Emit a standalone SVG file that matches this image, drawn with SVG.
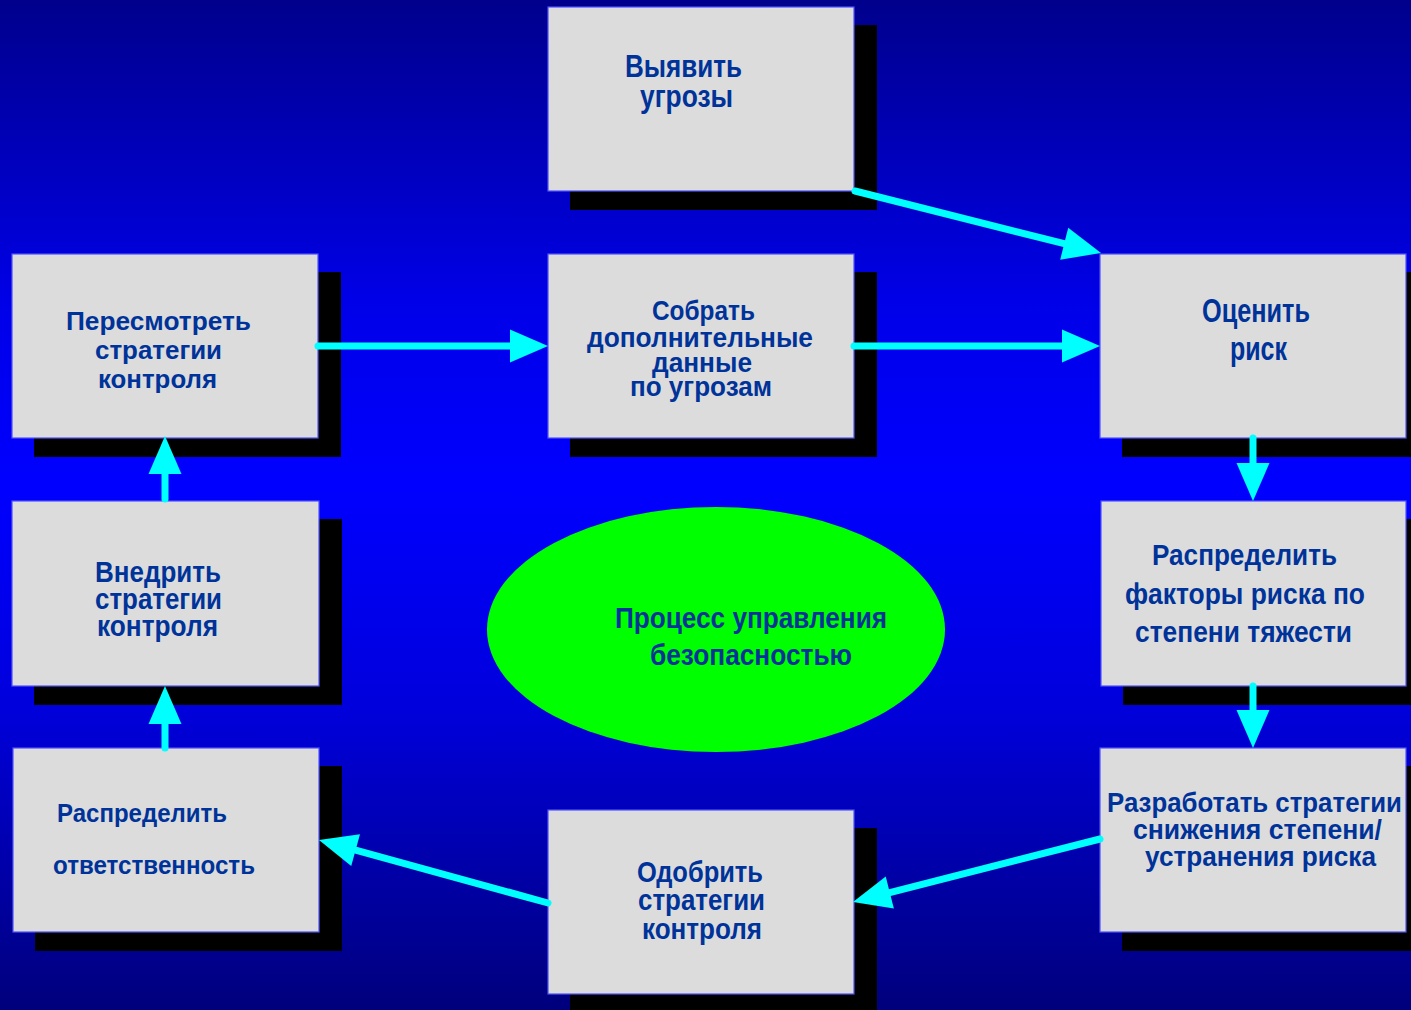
<svg xmlns="http://www.w3.org/2000/svg" width="1411" height="1010" viewBox="0 0 1411 1010">
  <defs>
    <linearGradient id="bg" x1="0" y1="0" x2="0" y2="1">
      <stop offset="0" stop-color="#00008C"/>
      <stop offset="0.3" stop-color="#0000E8"/>
      <stop offset="0.48" stop-color="#0000FF"/>
      <stop offset="0.7" stop-color="#0000DC"/>
      <stop offset="1" stop-color="#00007C"/>
    </linearGradient>
    <marker id="head" markerUnits="userSpaceOnUse" markerWidth="40" markerHeight="34" refX="0" refY="16.5" orient="auto" overflow="visible">
      <path d="M0,0 L38,16.5 L0,33 Z" fill="#00FFFF"/>
    </marker>
  </defs>
  <style>
    .shadow { fill: #000000; }
    .box { fill: #DCDCDC; stroke: #5050FF; stroke-width: 1.2; }
    .lbl { font-family: "Liberation Sans", Arial, sans-serif; font-weight: bold; fill: #003399; }
    .link { fill: none; stroke: #00FFFF; stroke-width: 7; stroke-linecap: round; marker-end: url(#head); }
  </style>

  <rect x="0" y="0" width="1411" height="1010" fill="url(#bg)"/>

  <!-- Central ellipse -->
  <g id="process">
    <ellipse cx="716" cy="629.5" rx="229" ry="122.5" fill="#00FF00"/>
    <text class="lbl" font-size="30">
      <tspan x="615" y="628" textLength="272" lengthAdjust="spacingAndGlyphs">Процесс управления</tspan>
      <tspan x="650" y="665" textLength="202" lengthAdjust="spacingAndGlyphs">безопасностью</tspan>
    </text>
  </g>

  <g id="identify-threats">
    <rect class="shadow" x="570" y="25" width="307" height="185"/>
    <rect class="box" x="548" y="7" width="306" height="184"/>
    <text class="lbl" font-size="32">
      <tspan x="625" y="77" textLength="117" lengthAdjust="spacingAndGlyphs">Выявить</tspan>
      <tspan x="640" y="107" textLength="93" lengthAdjust="spacingAndGlyphs">угрозы</tspan>
    </text>
  </g>

  <g id="review-strategies">
    <rect class="shadow" x="34" y="272" width="307" height="185"/>
    <rect class="box" x="12" y="254" width="306" height="184"/>
    <text class="lbl" font-size="26">
      <tspan x="66" y="330" textLength="185" lengthAdjust="spacingAndGlyphs">Пересмотреть</tspan>
      <tspan x="95" y="359" textLength="127" lengthAdjust="spacingAndGlyphs">стратегии</tspan>
      <tspan x="98" y="388" textLength="119" lengthAdjust="spacingAndGlyphs">контроля</tspan>
    </text>
  </g>

  <g id="collect-data">
    <rect class="shadow" x="570" y="272" width="307" height="185"/>
    <rect class="box" x="548" y="254" width="306" height="184"/>
    <text class="lbl" font-size="27">
      <tspan x="652" y="320" textLength="103" lengthAdjust="spacingAndGlyphs">Собрать</tspan>
      <tspan x="587" y="347" textLength="226" lengthAdjust="spacingAndGlyphs">дополнительные</tspan>
      <tspan x="652" y="372" textLength="100" lengthAdjust="spacingAndGlyphs">данные</tspan>
      <tspan x="630" y="396" textLength="142" lengthAdjust="spacingAndGlyphs">по угрозам</tspan>
    </text>
  </g>

  <g id="assess-risk">
    <rect class="shadow" x="1122" y="272" width="307" height="185"/>
    <rect class="box" x="1100" y="254" width="306" height="184"/>
    <text class="lbl" font-size="33">
      <tspan x="1202" y="322" textLength="108" lengthAdjust="spacingAndGlyphs">Оценить</tspan>
      <tspan x="1230" y="360" textLength="57" lengthAdjust="spacingAndGlyphs">риск</tspan>
    </text>
  </g>

  <g id="rank-factors">
    <rect class="shadow" x="1123" y="519" width="307" height="186"/>
    <rect class="box" x="1101" y="501" width="305" height="185"/>
    <text class="lbl" font-size="30">
      <tspan x="1152" y="565" textLength="185" lengthAdjust="spacingAndGlyphs">Распределить</tspan>
      <tspan x="1125" y="604" textLength="240" lengthAdjust="spacingAndGlyphs">факторы риска по</tspan>
      <tspan x="1135" y="642" textLength="217" lengthAdjust="spacingAndGlyphs">степени тяжести</tspan>
    </text>
  </g>

  <g id="develop-strategies">
    <rect class="shadow" x="1122" y="766" width="307" height="185"/>
    <rect class="box" x="1100" y="748" width="306" height="184"/>
    <text class="lbl" font-size="28">
      <tspan x="1107" y="812" textLength="295" lengthAdjust="spacingAndGlyphs">Разработать стратегии</tspan>
      <tspan x="1133" y="839" textLength="249" lengthAdjust="spacingAndGlyphs">снижения степени/</tspan>
      <tspan x="1145" y="866" textLength="231" lengthAdjust="spacingAndGlyphs">устранения риска</tspan>
    </text>
  </g>

  <g id="approve-strategies">
    <rect class="shadow" x="570" y="828" width="307" height="185"/>
    <rect class="box" x="548" y="810" width="306" height="184"/>
    <text class="lbl" font-size="30">
      <tspan x="637" y="882" textLength="126" lengthAdjust="spacingAndGlyphs">Одобрить</tspan>
      <tspan x="638" y="910" textLength="127" lengthAdjust="spacingAndGlyphs">стратегии</tspan>
      <tspan x="642" y="939" textLength="120" lengthAdjust="spacingAndGlyphs">контроля</tspan>
    </text>
  </g>

  <g id="assign-responsibility">
    <rect class="shadow" x="35" y="766" width="307" height="185"/>
    <rect class="box" x="13" y="748" width="306" height="184"/>
    <text class="lbl" font-size="26">
      <tspan x="57" y="822" textLength="170" lengthAdjust="spacingAndGlyphs">Распределить</tspan>
      <tspan x="53" y="874" textLength="202" lengthAdjust="spacingAndGlyphs">ответственность</tspan>
    </text>
  </g>

  <g id="implement-strategies">
    <rect class="shadow" x="34" y="519" width="308" height="186"/>
    <rect class="box" x="12" y="501" width="307" height="185"/>
    <text class="lbl" font-size="29">
      <tspan x="95" y="582" textLength="126" lengthAdjust="spacingAndGlyphs">Внедрить</tspan>
      <tspan x="95" y="609" textLength="127" lengthAdjust="spacingAndGlyphs">стратегии</tspan>
      <tspan x="97" y="636" textLength="121" lengthAdjust="spacingAndGlyphs">контроля</tspan>
    </text>
  </g>

  <!-- Connectors: each path ends at the base of its arrowhead -->
  <g id="connectors">
    <path class="link" d="M855,191 L1064.2,243.7"/>
    <path class="link" d="M318,346 L510,346"/>
    <path class="link" d="M854,346 L1062,346"/>
    <path class="link" d="M1253,438 L1253,463"/>
    <path class="link" d="M1253,686 L1253,710"/>
    <path class="link" d="M1100,839 L889.8,892.6"/>
    <path class="link" d="M548,903 L355.6,850.1"/>
    <path class="link" d="M165,748 L165,724"/>
    <path class="link" d="M165,499 L165,474"/>
  </g>
</svg>
